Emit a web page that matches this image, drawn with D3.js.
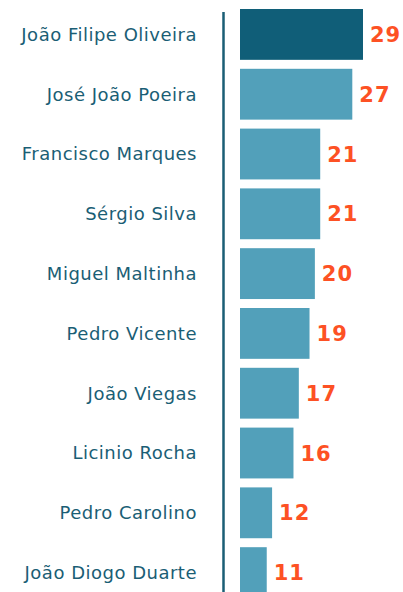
<!DOCTYPE html>
<html>
<head>
<meta charset="utf-8">
<script src="https://cdn.jsdelivr.net/npm/d3@7"></script>
<style>
	body { margin: 0; background: #fff; }
	svg { display: block; }
</style>
</head>
<body>
<div id="chart"></div>
<script>
	const names = [
		"João Filipe Oliveira",
		"José João Poeira",
		"Francisco Marques",
		"Sérgio Silva",
		"Miguel Maltinha",
		"Pedro Vicente",
		"João Viegas",
		"Licinio Rocha",
		"Pedro Carolino",
		"João Diogo Duarte",
	];
	const values = [29, 27, 21, 21, 20, 19, 17, 16, 12, 11];

	const width = 403;
	const height = 592;

	const svg = d3
		.select("#chart")
		.append("svg")
		.attr("width", width)
		.attr("height", height);

	// the bars don't start from zero in the original, domain starts around 6
	const x = d3.scaleLinear().domain([6, 29]).range([240, 363]);

	const step = 59.8;
	const pad = 0.15;
	const y = d3
		.scaleBand()
		.domain(names)
		.range([9, 9 + step * (names.length - pad)])
		.paddingInner(pad)
		.paddingOuter(0);

	const darkTeal = "#105e78";
	const lightTeal = "#52a0ba";
	const orange = "#fd5124";

	svg
		.selectAll("rect.bar")
		.data(values)
		.enter()
		.append("rect")
		.attr("class", "bar")
		.attr("x", x(6))
		.attr("y", (d, i) => y(names[i]))
		.attr("width", (d) => x(d) - x(6))
		.attr("height", y.bandwidth())
		.attr("fill", (d, i) => (i == 0 ? darkTeal : lightTeal));

	// vertical axis line
	svg
		.append("line")
		.attr("x1", 223.5)
		.attr("x2", 223.5)
		.attr("y1", 12)
		.attr("y2", height)
		.attr("stroke", "#1a5e75")
		.attr("stroke-width", 2.5);

	svg
		.selectAll("text.name")
		.data(names)
		.enter()
		.append("text")
		.attr("class", "name")
		.attr("x", 197)
		.attr("y", (d) => y(d) + y.bandwidth() / 2)
		.attr("dy", "0.35em")
		.attr("text-anchor", "end")
		.style("font-family", "'DejaVu Sans'")
		.style("font-size", "18px")
		.style("letter-spacing", "0.5px")
		.style("fill", "#1a5e75")
		.text((d) => d);

	svg
		.selectAll("text.value")
		.data(values)
		.enter()
		.append("text")
		.attr("class", "value")
		.attr("x", (d) => x(d) + 7)
		.attr("y", (d, i) => y(names[i]) + y.bandwidth() / 2)
		.attr("dy", "0.36em")
		.style("font-family", "'DejaVu Sans'")
		.style("font-weight", "bold")
		.style("font-size", "21px")
		.style("letter-spacing", "1px")
		.style("fill", orange)
		.text((d) => d);
</script>
</body>
</html>
